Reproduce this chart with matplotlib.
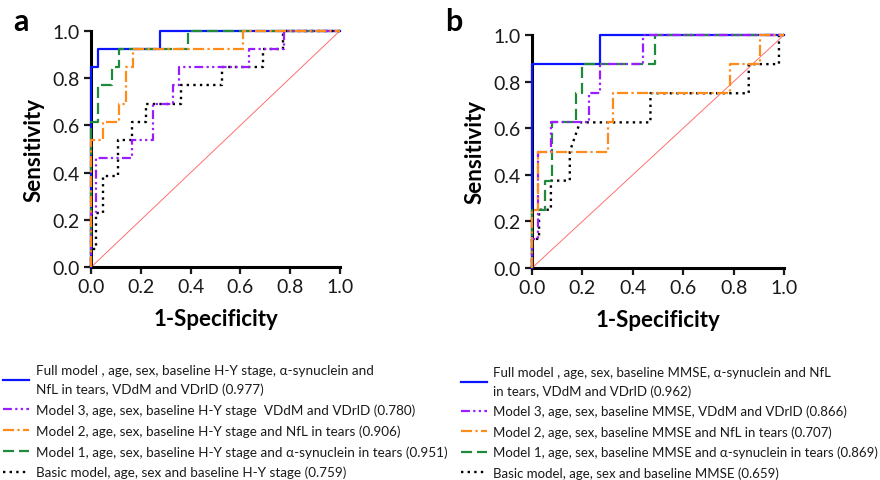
import numpy as np
import matplotlib
matplotlib.use('Agg')
import matplotlib.pyplot as plt

plt.rcParams['font.family'] = ['Lato', 'DejaVu Sans']

# ROC curves (1-specificity, sensitivity)
# panel a: H-Y stage models
a_full_fpr = [0, 0, 0.028, 0.028, 0.278, 0.278, 1]
a_full_tpr = [0, 0.846, 0.846, 0.923, 0.923, 1, 1]

a_m3_fpr = [0, 0, 0.022, 0.022, 0.163, 0.163, 0.248, 0.248, 0.331, 0.331,
            0.355, 0.355, 0.636, 0.636, 0.775, 0.775, 1]
a_m3_tpr = [0, 0.231, 0.231, 0.462, 0.462, 0.538, 0.538, 0.692, 0.692, 0.769,
            0.769, 0.846, 0.846, 0.923, 0.923, 1, 1]

a_m2_fpr = [0, 0, 0.05, 0.05, 0.111, 0.111, 0.139, 0.139, 0.167, 0.167, 0.611, 0.611, 1]
a_m2_tpr = [0, 0.538, 0.538, 0.615, 0.615, 0.692, 0.692, 0.846, 0.846, 0.923, 0.923, 1, 1]

a_m1_fpr = [0, 0, 0.028, 0.028, 0.083, 0.083, 0.111, 0.111, 0.389, 0.389, 1]
a_m1_tpr = [0, 0.615, 0.615, 0.769, 0.769, 0.846, 0.846, 0.923, 0.923, 1, 1]

a_basic_fpr = [0, 0, 0.022, 0.022, 0.05, 0.05, 0.107, 0.107, 0.163, 0.163, 0.22, 0.22,
               0.36, 0.36, 0.525, 0.525, 0.69, 0.69, 0.77, 0.77, 1]
a_basic_tpr = [0, 0.077, 0.077, 0.231, 0.231, 0.385, 0.385, 0.538, 0.538, 0.615, 0.615, 0.692,
               0.692, 0.769, 0.769, 0.846, 0.846, 0.923, 0.923, 1, 1]

# panel b: MMSE models
b_full_fpr = [0, 0, 0.27, 0.27, 1]
b_full_tpr = [0, 0.875, 0.875, 1, 1]

b_m3_fpr = [0, 0, 0.025, 0.025, 0.075, 0.075, 0.225, 0.225, 0.27, 0.27, 0.44, 0.44, 1]
b_m3_tpr = [0, 0.125, 0.125, 0.5, 0.5, 0.625, 0.625, 0.75, 0.75, 0.875, 0.875, 1, 1]

b_m2_fpr = [0, 0, 0.025, 0.025, 0.3, 0.3, 0.32, 0.32, 0.785, 0.785, 0.905, 0.905, 1]
b_m2_tpr = [0, 0.25, 0.25, 0.5, 0.5, 0.625, 0.625, 0.75, 0.75, 0.875, 0.875, 1, 1]

b_m1_fpr = [0, 0, 0.05, 0.05, 0.078, 0.078, 0.175, 0.175, 0.2, 0.2, 0.49, 0.49, 1]
b_m1_tpr = [0, 0.25, 0.25, 0.375, 0.375, 0.625, 0.625, 0.75, 0.75, 0.875, 0.875, 1, 1]

b_basic_fpr = [0, 0, 0.028, 0.028, 0.075, 0.075, 0.15, 0.15, 0.19, 0.47, 0.47, 0.86, 0.86,
               0.98, 0.98, 1]
b_basic_tpr = [0, 0.125, 0.125, 0.25, 0.25, 0.375, 0.375, 0.5, 0.625, 0.625, 0.75, 0.75, 0.875,
               0.875, 1, 1]

labels_a = ['Full model , age, sex, baseline H-Y stage, \u03b1-synuclein and\nNfL in tears, VDdM and VDrlD (0.977)',
            'Model 3, age, sex, baseline H-Y stage  VDdM and VDrlD (0.780)',
            'Model 2, age, sex, baseline H-Y stage and NfL in tears (0.906)',
            'Model 1, age, sex, baseline H-Y stage and \u03b1-synuclein in tears (0.951)',
            'Basic model, age, sex and baseline H-Y stage (0.759)']
labels_b = ['Full model , age, sex, baseline MMSE, \u03b1-synuclein and NfL\nin tears, VDdM and VDrlD (0.962)',
            'Model 3, age, sex, baseline MMSE, VDdM and VDrlD (0.866)',
            'Model 2, age, sex, baseline MMSE and NfL in tears (0.707)',
            'Model 1, age, sex, baseline MMSE and \u03b1-synuclein in tears (0.869)',
            'Basic model, age, sex and baseline MMSE (0.659)']

ticks = [0.0, 0.2, 0.4, 0.6, 0.8, 1.0]

# line styles: full, model 3, model 2, model 1, basic
styles = [dict(color='#0a14ff', ls='-', lw=1.6),
          dict(color='#9a1cff', ls=(0, (4, 1.5, 1, 1.5, 1, 1.5)), lw=1.6),
          dict(color='#ff8c1a', ls=(0, (5, 1.5, 1, 1.5)), lw=1.6),
          dict(color='#1f8a3c', ls=(0, (5, 2.2)), lw=1.6),
          dict(color='black', ls=(0, (1, 1.8)), lw=1.7)]
draw_order = [0, 4, 3, 1, 2]

fig = plt.figure(figsize=(8.8, 4.81), dpi=100)
ax_a = fig.add_axes([91/880, 1 - 268.3/481, 249/880, 236.6/481])
ax_b = fig.add_axes([532/880, 1 - 269/481, 252/880, 233/481])

curves_a = [(a_full_fpr, a_full_tpr), (a_m3_fpr, a_m3_tpr), (a_m2_fpr, a_m2_tpr),
            (a_m1_fpr, a_m1_tpr), (a_basic_fpr, a_basic_tpr)]
curves_b = [(b_full_fpr, b_full_tpr), (b_m3_fpr, b_m3_tpr), (b_m2_fpr, b_m2_tpr),
            (b_m1_fpr, b_m1_tpr), (b_basic_fpr, b_basic_tpr)]

# axes, curves, labels, letter, legend x/y (px), legend font, label spacing, line spacing
panels = [(ax_a, curves_a, labels_a, 'a', 3, 365, 9.7, 0.62, 1.6),
          (ax_b, curves_b, labels_b, 'b', 461, 367, 9.5, 0.6, 1.6)]

for ax, curves, labels, letter, legx, legy, legfs, legsp, linesp in panels:
    handles = [None] * 5
    for i in draw_order:
        fpr, tpr = curves[i]
        h, = ax.plot(fpr, tpr, clip_on=False, zorder=3 + draw_order.index(i), **styles[i])
        handles[i] = h
    # chance line
    ax.plot([0, 1], [0, 1], color='#ff7070', lw=0.7, zorder=2)

    ax.set_xlim(0, 1)
    ax.set_ylim(0, 1)
    ax.set_xticks(ticks)
    ax.set_yticks(ticks)
    ax.set_xticklabels(['%.1f' % t for t in ticks])
    ax.set_yticklabels(['%.1f' % t for t in ticks])
    ax.tick_params(labelsize=14, length=5, width=1.6, pad=3, colors='#1a1a1a')
    for s in ['top', 'right']:
        ax.spines[s].set_visible(False)
    for s in ['left', 'bottom']:
        ax.spines[s].set_linewidth(2.2)
    ax.set_xlabel('1-Specificity', fontsize=16, fontweight='bold', labelpad=9)
    ax.set_ylabel('Sensitivity', fontsize=16, fontweight='bold', labelpad=6)

    pos = ax.get_position()
    fig.text(pos.x0 - 78/880 if letter == 'a' else pos.x0 - 87/880, 0.955, letter,
             fontsize=22, fontweight='bold', ha='left', va='center')

    leg = fig.legend(handles, labels, loc='upper left', bbox_to_anchor=(legx/880, 1 - legy/481),
                     frameon=False, fontsize=legfs, handlelength=1.95, handletextpad=0.5,
                     labelspacing=legsp, borderpad=0, borderaxespad=0)
    for t in leg.get_texts():
        t.set_linespacing(linesp)
        t.set_color('#1a1a1a')

fig.savefig('out.png', dpi=100)
